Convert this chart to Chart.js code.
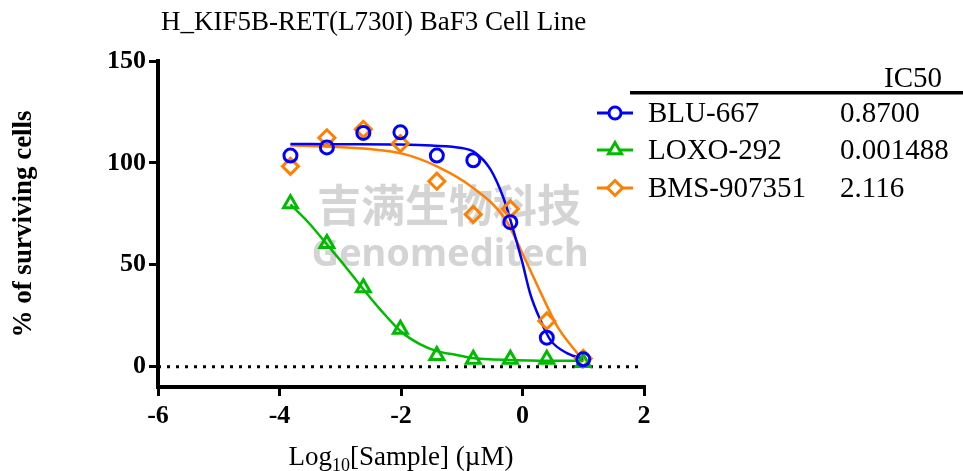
<!DOCTYPE html>
<html>
<head>
<meta charset="utf-8">
<script src="https://cdn.jsdelivr.net/npm/chart.js@4.4.1/dist/chart.umd.min.js"></script>
<style>
  html, body { margin: 0; padding: 0; background: #fff; }
  #ic50Chart { display: block; }
</style>
</head>
<body>
<canvas id="ic50Chart" style="width:963px;height:471px"></canvas>
<script>
// Log10 of sample concentration (uM)
const logConc = [-3.82, -3.22, -2.62, -2.01, -1.41, -0.81, -0.20, 0.40, 1.00];

// % of surviving cells, measured points
const blu667 = [103.6, 107.6, 114.7, 115.0, 103.6, 101.3, 70.9, 14.2, 3.6];
const loxo292 = [80.0, 60.4, 38.7, 18.3, 5.5, 3.6, 3.6, 3.6, 2.0];
const bms907351 = [98.3, 112.3, 116.5, 109.5, 91.0, 74.7, 77.4, 22.4, 4.0];

// fitted curves
const bluFitX = [-3.82, -3.0, -2.0, -1.5, -1.0, -0.8, -0.53, -0.31, -0.17, -0.01, 0.13, 0.30, 0.46, 0.74, 1.0];
const bluFitY = [109.3, 109.2, 109.0, 108.5, 107.3, 105.4, 96.9, 82.5, 69.0, 52.0, 35.5, 22.5, 13.0, 6.5, 3.8];
const loxoFitX = [-3.82, -3.52, -3.22, -2.92, -2.62, -2.34, -2.01, -1.69, -1.41, -1.1, -0.86, -0.2, 0.4, 1.0];
const loxoFitY = [79.6, 70.6, 60.0, 49.3, 38.0, 28.0, 17.5, 11.0, 7.6, 5.8, 4.4, 3.2, 2.9, 2.8];
const bmsFitX = [-3.82, -3.22, -2.51, -1.96, -1.41, -0.83, -0.28, 0.02, 0.30, 0.57, 0.85, 1.01];
const bmsFitY = [108.6, 108.0, 106.8, 104.4, 98.3, 88.1, 72.2, 54.2, 36.3, 19.9, 8.5, 2.7];

// axes
const xTicks = [-6, -4, -2, 0, 2];
const yTicks = [0, 50, 100, 150];

// legend table
const drugNames = ['BLU-667', 'LOXO-292', 'BMS-907351'];
const ic50Values = ['0.8700', '0.001488', '2.116'];
const drugColors = ['#0000ff', '#00bb00', '#ff7f00'];
const drugMarkers = ['circle', 'triangle', 'rectRot'];

const chartTitle = 'H_KIF5B-RET(L730I) BaF3 Cell Line';
const serif = "'Liberation Serif', 'Times New Roman', serif";

function pairs(xs, ys) {
    return xs.map((x, i) => ({ x: x, y: ys[i] }));
}

const markerSize = [6.5, 8, 8];

// point datasets first so they sit on top of the curves
const pointSets = [blu667, loxo292, bms907351].map((vals, i) => ({
    label: drugNames[i],
    data: pairs(logConc, vals),
    showLine: false,
    pointStyle: drugMarkers[i],
    pointRadius: markerSize[i],
    pointBorderWidth: 3,
    borderColor: drugColors[i],
    backgroundColor: 'rgba(255,255,255,0)',
    pointHoverRadius: markerSize[i]
}));

const fitSets = [[bluFitX, bluFitY], [loxoFitX, loxoFitY], [bmsFitX, bmsFitY]].map((f, i) => ({
    label: drugNames[i] + ' fit',
    data: pairs(f[0], f[1]),
    showLine: true,
    pointRadius: 0,
    borderWidth: 2.5,
    borderColor: drugColors[i],
    cubicInterpolationMode: 'monotone'
}));

const zeroLine = {
    label: 'zero',
    data: [{ x: -6, y: 0 }, { x: 2, y: 0 }],
    showLine: true,
    pointRadius: 0,
    borderWidth: 3,
    borderColor: '#000',
    borderDash: [3, 6]
};

// faint company watermark behind the data
const watermark = {
    id: 'watermark',
    beforeDatasetsDraw(chart) {
        const ctx = chart.ctx;
        ctx.save();
        ctx.fillStyle = 'rgba(170,170,170,0.5)';
        ctx.textAlign = 'center';
        ctx.textBaseline = 'middle';
        ctx.font = "bold 44px 'Noto Sans CJK SC', sans-serif";
        ctx.fillText('吉满生物科技', 449, 205);
        ctx.font = "bold 38px 'Noto Sans', sans-serif";
        ctx.fillText('Genomeditech', 450, 255);
        ctx.restore();
    }
};

// title, x-axis title with subscript, and the IC50 legend table
const extras = {
    id: 'extras',
    afterDraw(chart) {
        const ctx = chart.ctx;
        const xs = chart.scales.x;
        ctx.save();
        ctx.fillStyle = '#000';
        ctx.textBaseline = 'alphabetic';

        ctx.font = '27px ' + serif;
        ctx.textAlign = 'left';
        ctx.fillText(chartTitle, 161, 30);

        // Log10[Sample] (uM)
        const big = '27px ' + serif, small = '18px ' + serif;
        ctx.font = big;
        const w1 = ctx.measureText('Log').width;
        const w3 = ctx.measureText('[Sample] (\u00b5M)').width;
        ctx.font = small;
        const w2 = ctx.measureText('10').width;
        const cx = (xs.left + xs.right) / 2;
        let x0 = cx - (w1 + w2 + w3) / 2;
        const base = 465;
        ctx.font = big;
        ctx.fillText('Log', x0, base);
        ctx.font = small;
        ctx.fillText('10', x0 + w1, base + 6);
        ctx.font = big;
        ctx.fillText('[Sample] (\u00b5M)', x0 + w1 + w2, base);

        // legend table
        ctx.font = '29px ' + serif;
        ctx.textAlign = 'right';
        ctx.fillText('IC50', 942, 87);
        ctx.fillRect(630, 91, 333, 3.5);
        const rowY = [113, 150, 188];
        drugNames.forEach((name, i) => {
            const y = rowY[i];
            ctx.strokeStyle = drugColors[i];
            ctx.lineWidth = 3;
            ctx.beginPath();
            ctx.moveTo(597, y);
            ctx.lineTo(633, y);
            ctx.stroke();
            ctx.fillStyle = '#fff';
            Chart.helpers.drawPoint(ctx, {
                pointStyle: drugMarkers[i],
                radius: markerSize[i] - 0.5,
                rotation: 0,
                borderWidth: 3
            }, 615, y);
            ctx.fillStyle = '#000';
            ctx.textAlign = 'left';
            ctx.textBaseline = 'middle';
            ctx.fillText(name, 648, y + 1);
            ctx.fillText(ic50Values[i], 840, y + 1);
        });
        ctx.restore();
    }
};

const ic50Chart = new Chart(document.getElementById('ic50Chart'), {
    type: 'scatter',
    data: {
        datasets: pointSets.concat(fitSets, [zeroLine])
    },
    options: {
        responsive: false,
        animation: false,
        devicePixelRatio: 1,
        layout: {
            padding: { top: 61, right: 319, left: 0, bottom: 0 }
        },
        plugins: {
            legend: { display: false },
            tooltip: { enabled: false }
        },
        scales: {
            x: {
                type: 'linear',
                min: -6,
                max: 2,
                afterBuildTicks: s => { s.ticks = xTicks.map(v => ({ value: v })); },
                afterFit: s => { s.height = 84; },
                border: { color: '#000', width: 4 },
                grid: { drawOnChartArea: false, drawTicks: true, color: '#000', lineWidth: 3, tickLength: 9 },
                ticks: {
                    color: '#000',
                    padding: 5,
                    font: { family: serif, size: 26, weight: 'bold' }
                }
            },
            y: {
                type: 'linear',
                min: -10,
                max: 150,
                afterBuildTicks: s => { s.ticks = yTicks.map(v => ({ value: v })); },
                afterFit: s => { s.width = 158; },
                border: { color: '#000', width: 4 },
                grid: { drawOnChartArea: false, drawTicks: true, color: '#000', lineWidth: 3, tickLength: 9 },
                ticks: {
                    color: '#000',
                    padding: 3,
                    font: { family: serif, size: 26, weight: 'bold' }
                },
                title: {
                    display: true,
                    text: '% of surviving cells',
                    color: '#000',
                    padding: { top: 8, bottom: 0 },
                    font: { family: serif, size: 27, weight: 'bold' }
                }
            }
        }
    },
    plugins: [watermark, extras]
});
</script>
</body>
</html>
